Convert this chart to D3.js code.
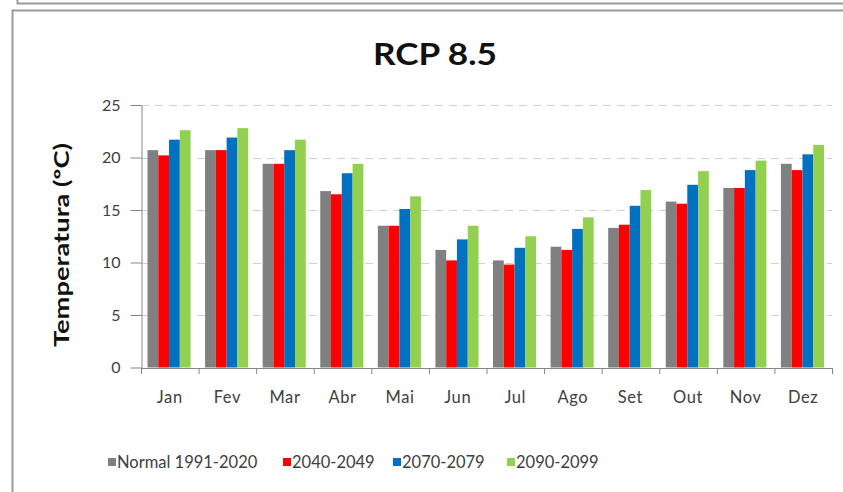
<!DOCTYPE html>
<html>
<head>
<meta charset="utf-8">
<script src="https://cdn.jsdelivr.net/npm/d3@7"></script>
<style>
  html, body { margin: 0; padding: 0; background: #fff; overflow: hidden; }
  svg { display: block; overflow: hidden; }
</style>
</head>
<body>
<svg id="chart" width="843" height="492"></svg>
<script>
// Monthly mean temperature (°C), RCP 8.5 scenario
const months = ["Jan", "Fev", "Mar", "Abr", "Mai", "Jun", "Jul", "Ago", "Set", "Out", "Nov", "Dez"];
const seriesNames = ["Normal 1991-2020", "2040-2049", "2070-2079", "2090-2099"];
const normal1991_2020 = [20.7, 20.7, 19.4, 16.8, 13.5, 11.2, 10.2, 11.5, 13.3, 15.8, 17.1, 19.4];
const period2040_2049 = [20.2, 20.7, 19.4, 16.5, 13.5, 10.2, 9.8, 11.2, 13.6, 15.6, 17.1, 18.8];
const period2070_2079 = [21.7, 21.9, 20.7, 18.5, 15.1, 12.2, 11.4, 13.2, 15.4, 17.4, 18.8, 20.3];
const period2090_2099 = [22.6, 22.8, 21.7, 19.4, 16.3, 13.5, 12.5, 14.3, 16.9, 18.7, 19.7, 21.2];
const yTicks = [0, 5, 10, 15, 20, 25];
const colors = ["#808080", "#FF0000", "#0070C0", "#92D050"];

const seriesValues = [normal1991_2020, period2040_2049, period2070_2079, period2090_2099];

const svg = d3.select("#chart");
const font = "Lato, 'Open Sans', sans-serif";

// frame borders
svg.append("path")
  .attr("d", "M17.5,-2 V3.5 H860")
  .attr("fill", "none").attr("stroke", "#9a9a9a").attr("stroke-width", 2);
svg.append("path")
  .attr("d", "M12.5,500 V10.5 H860")
  .attr("fill", "none").attr("stroke", "#9a9a9a").attr("stroke-width", 2);

const plot = { left: 141, right: 832, top: 105, bottom: 367.5 };

const x = d3.scaleBand().domain(months).range([plot.left, plot.right]).padding(0);
const xInner = d3.scaleBand().domain(d3.range(seriesNames.length))
  .range([6.5, x.bandwidth() - 8]).padding(0);
const y = d3.scaleLinear().domain([0, 25]).range([plot.bottom, plot.top]);

// gridlines
svg.append("g")
  .selectAll("line")
  .data(yTicks.filter(t => t > 0))
  .join("line")
  .attr("x1", plot.left).attr("x2", plot.right)
  .attr("y1", d => Math.round(y(d)) + 0.5).attr("y2", d => Math.round(y(d)) + 0.5)
  .attr("stroke", "#cfcfcf")
  .attr("stroke-dasharray", "8,6");

// bars
const groups = svg.append("g")
  .selectAll("g")
  .data(months)
  .join("g")
  .attr("transform", d => `translate(${x(d)},0)`);

groups.selectAll("rect")
  .data((m, i) => seriesValues.map((vals, s) => ({ s, v: vals[i] })))
  .join("rect")
  .attr("x", d => xInner(d.s))
  .attr("width", xInner.bandwidth())
  .attr("y", d => y(d.v))
  .attr("height", d => y(0) - y(d.v))
  .attr("fill", d => colors[d.s]);

// y axis
const yAxis = svg.append("g")
  .attr("transform", `translate(${plot.left + 0.5},0)`)
  .call(d3.axisLeft(y).tickValues(yTicks).tickSize(11).tickSizeOuter(0).tickPadding(10));
yAxis.select(".domain").attr("stroke", "#868686");
yAxis.selectAll(".tick line").attr("stroke", "#868686");
yAxis.selectAll("text")
  .attr("fill", "#404040")
  .style("font-family", font)
  .style("font-size", "16px");

// x axis
const xAxis = svg.append("g")
  .attr("transform", `translate(0,${plot.bottom + 0.5})`)
  .call(d3.axisBottom(x).tickSize(0).tickSizeOuter(0).tickPadding(23));
xAxis.select(".domain").attr("stroke", "#868686");
xAxis.selectAll("text")
  .attr("fill", "#404040")
  .style("font-family", font)
  .style("font-size", "16.5px")
  .style("letter-spacing", "0.6px");
// category separators
xAxis.selectAll(".sep")
  .data(months.concat(["end"]))
  .join("line")
  .attr("class", "sep")
  .attr("x1", (d, i) => (i < months.length ? x(d) : plot.right) + 0.5)
  .attr("x2", (d, i) => (i < months.length ? x(d) : plot.right) + 0.5)
  .attr("y1", 0).attr("y2", 6)
  .attr("stroke", "#868686");

// title
svg.append("text")
  .attr("x", 435).attr("y", 65)
  .attr("text-anchor", "middle")
  .style("font-family", font)
  .style("font-size", "31px")
  .style("font-weight", "bold")
  .attr("fill", "#111")
  .attr("textLength", 124)
  .attr("lengthAdjust", "spacingAndGlyphs")
  .text("RCP 8.5");

// y axis title
svg.append("text")
  .attr("transform", "translate(69,245) rotate(-90)")
  .attr("text-anchor", "middle")
  .style("font-family", font)
  .style("font-size", "21px")
  .style("font-weight", "bold")
  .attr("fill", "#111")
  .attr("textLength", 204)
  .attr("lengthAdjust", "spacingAndGlyphs")
  .text("Temperatura  (ºC)");

// legend
const legendX = [108, 283, 393, 507];
const legend = svg.append("g")
  .selectAll("g")
  .data(seriesNames)
  .join("g")
  .attr("transform", (d, i) => `translate(${legendX[i]},458)`);
legend.append("rect")
  .attr("width", 8).attr("height", 8).attr("y", 0)
  .attr("fill", (d, i) => colors[i]);
legend.append("text")
  .attr("x", 9).attr("y", 10)
  .style("font-family", font)
  .style("font-size", "16.5px")
  .attr("fill", "#404040")
  .text(d => d);
</script>
</body>
</html>
